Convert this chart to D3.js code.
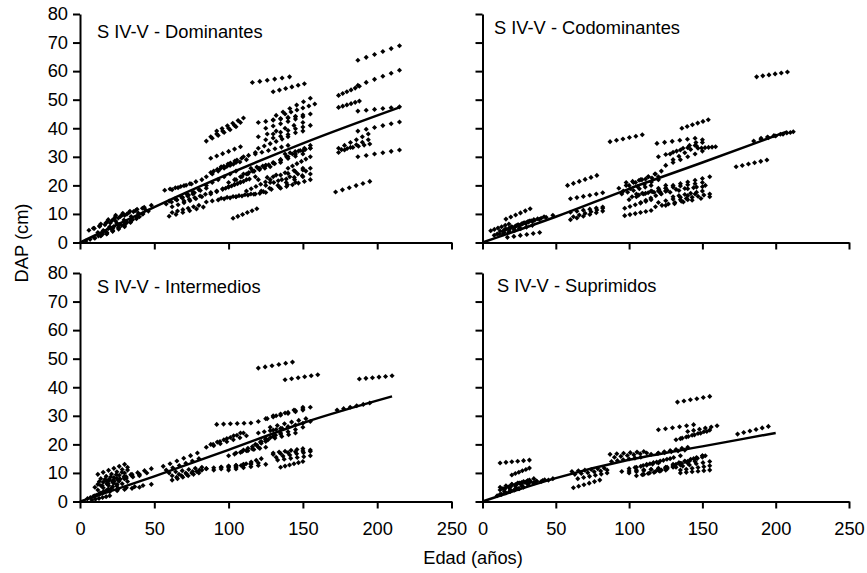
<!DOCTYPE html>
<html>
<head>
<meta charset="utf-8">
<script src="https://cdn.jsdelivr.net/npm/d3@7"></script>
<style>
  html, body { margin: 0; padding: 0; background: #fff; }
  svg { display: block; }
  text { font-family: "Liberation Sans", Arial, sans-serif; fill: #000; }
</style>
</head>
<body>
<svg id="chart" width="867" height="573"></svg>
<script>
// ---- Data ----
// Each tree: [firstAge, lastAge, firstDAP, lastDAP]; each tree was measured 6 times.
const measurementsPerTree = 6;
const xTicks = [0, 50, 100, 150, 200, 250];
const yTicks = [0, 10, 20, 30, 40, 50, 60, 70, 80];
const panelTitles = ["S IV-V - Dominantes", "S IV-V - Codominantes", "S IV-V - Intermedios", "S IV-V - Suprimidos"];
const xTitle = "Edad (años)";
const yTitle = "DAP (cm)";

const dominantes = [
  [4,18,0.5,3.5],[6,24,4.3,7.5],[9,30,5,9.5],[14,36,6.5,10.8],[19,42,8,12],[24,48,9.5,13],
  [10,30,1.5,5.5],[14,34,2.5,7],[18,38,3,8.3],[22,42,5,10],[28,46,6,11],[16,40,4,9],[20,44,5.5,11.5],[12,30,3.5,7],
  [57,75,18.3,20.5],[62,82,18.5,22],[58,76,13.5,17],[60,80,14.5,18.5],[62,82,12.5,16],[65,85,15,19],
  [60,83,9.2,12.4],[62,80,10.5,13],[70,88,14.5,17.5],
  [85,105,35.5,40.5],[88,108,37,42],[92,110,39,43.6],[88,108,29.5,33.5],[85,105,23,28],[88,110,24.5,30],
  [90,112,25,29],[95,118,26.5,31.5],[85,105,20,25],[88,108,17,21],[92,112,18,22],[98,118,19,23],
  [85,105,14.2,16],[95,115,15.5,17],[105,125,16,17.5],[103,119,8.5,11.8],[100,120,21,26],[105,125,22,27],
  [110,128,24,26.5],[112,128,18,22],
  [116,141,56,58],[130,151,52.8,55.6],[120,145,42,44],[130,155,43,45],[125,150,40,44],[120,150,37,42],
  [132,155,44.5,50.5],[138,158,45,48.5],[125,150,36,39],[130,155,38,41],[120,140,33,37],[118,140,31,34],
  [125,150,27,31],[130,155,28,33],[135,155,29,34],[120,150,22,26],[125,152,20,25],[128,155,21,24],
  [130,155,23,26],[118,145,17,21],[122,150,18,23],[135,155,19,22],[140,155,26,30],[115,135,26,28],[138,155,31,33],
  [187,215,63.8,68.9],[187,215,55,60.3],[174,188,51.5,54.7],[174,188,47.3,49.5],[187,215,46,47.5],
  [187,215,39,42.2],[174,194,31.5,36],[174,194,33,38],[176,195,32.5,34.5],[187,215,30,32.4],[172,195,17.7,21.4]
];
const codominantes = [
  [5.6,18,4.1,6.5],[16,32.5,8.2,11.8],[17,39,1.8,3.5],[10,30,3,7],[12,32,4,7.5],[15,35,4.5,8],
  [18,40,5,8.5],[20,42,5.5,9],[25,48,6,9.5],[8,25,2.5,5],[14,34,3,6],
  [58,78,20,23.5],[60,82,15.3,17.4],[60,82,10.6,12.4],[60,82,8,11],[62,82,9,12],
  [87,109,35.3,37.7],[93,118,19,24],[96,120,18,22],[100,122,20,25],[98,120,21,23],[100,125,15,20],
  [102,125,16,19],[105,125,17,18],[95,115,17,20],[97,115,12,15],[108,125,14,18],[97,115,9.4,11.2],
  [136,154,40,43],[119,145,34.7,36.5],[120,145,30,34],[128,150,31,36],[125,150,27,32],[130,150,29,35],[147,159,33,33.5],
  [120,150,18,19.5],[122,152,17,20],[125,150,19,21],[130,155,20,23],[120,145,14,17],[125,155,13,16],
  [130,150,16,18],[118,140,12.5,15],[135,155,15,17],
  [187,208,58,59.7],[185,210,35.5,38.5],[190,212,36.5,38.8],[173,194,26.5,28.9]
];
const intermedios = [
  [12,30,9.5,13],[14,32,8,12],[13,32,7,11],[12,30,6,10],[15,35,5.5,9.5],[18,40,7,9],[20,45,7.5,10],
  [25,48,8,11.5],[12,30,4,8],[14,32,3,7],[20,48,4,6],[15,40,3,5],[5,15,1,3],[8,20,0.5,2],[10,30,5,8],[10,25,2,6],
  [56,79,12.3,17],[58,80,11,15],[60,82,10,12],[62,85,9,11.5],[62,80,7.5,10],[65,82,8.5,11],
  [92,115,27,27.5],[85,108,19,24],[88,110,20,24],[90,112,19.5,23],[85,110,11.5,13],[90,115,11,13],
  [95,120,12,13.5],[100,125,11,13],[105,122,12,15],[100,120,16,19],[105,125,17,19],[110,125,18,21],[118,135,20,24],
  [120,143,46.7,48.8],[138,160,42.6,44.4],[120,150,28,33],[125,150,29,32],[130,155,30,33],[128,152,26,29],
  [130,155,25,28],[120,140,24,26],[122,145,21,24],[125,150,22,26],
  [130,155,16.5,18],[132,155,15.5,17.5],[133,155,14.5,16],[135,150,12,14],[130,150,17,18.5],
  [188,210,42.9,44],[173,195,32,34.5]
];
const suprimidos = [
  [12,32,13.5,14.5],[20,32,9.3,11.7],[12,32,5,7.5],[12,30,4,7],[14,35,4.5,8],[15,35,3.5,6.5],[18,40,5,7],
  [20,48,6,8],[12,28,2.5,5],[10,25,2,4.5],[25,45,6.5,7.5],
  [61,83,10.5,11.7],[63,85,9.5,11],[65,85,8,10],[62,80,4.8,7.5],
  [87,110,16.5,17.5],[90,112,15.5,17],[88,108,14,15.5],[95,120,10.5,11.5],[100,120,11.5,13.5],
  [100,125,10,12],[105,125,9,11],[110,130,9.5,12],[105,128,12,15],[112,135,13,16],
  [115,138,16.5,18],[120,140,17,19],[120,150,11,16],[125,152,11.5,16],
  [130,150,13,16],[132,155,12,14],[135,155,11,12.5],[135,155,10,11],[125,150,12,15.5],[120,145,11,14],
  [133,155,34.8,36.8],[120,144,25.1,26.9],[140,160,24.5,26.5],[132,153,21.6,24.5],[135,155,22,25],
  [174,195,23.6,26.3]
];

// fitted curves, read as [age, DAP] points
const fitDominantes = [[0,0],[25,6.3],[50,12.4],[100,24],[150,34.7],[215,47.3]];
const fitCodominantes = [[0,0],[50,9],[100,18.8],[150,28],[208,38.9]];
const fitIntermedios = [[0,0],[50,8.8],[100,18.1],[150,27.5],[210,36.8]];
const fitSuprimidos = [[0,0],[50,8.2],[100,14.6],[150,19.3],[200,24]];

// ---- Layout ----
const layout = [
  {data: dominantes, fit: fitDominantes, left: 80, width: 371.5, top: 14, yLabels: true, xLabels: false, tx: 97, ty: 38},
  {data: codominantes, fit: fitCodominantes, left: 482.5, width: 366.5, top: 14, yLabels: false, xLabels: false, tx: 494, ty: 34},
  {data: intermedios, fit: fitIntermedios, left: 80, width: 371.5, top: 273, yLabels: true, xLabels: true, tx: 97, ty: 293},
  {data: suprimidos, fit: fitSuprimidos, left: 482.5, width: 366.5, top: 273, yLabels: false, xLabels: true, tx: 497, ty: 292}
];
const PH = 228.5;

const svg = d3.select("#chart");
const FONT = 18.3;

function treePoints(t) {
  const [a0, a1, d0, d1] = t;
  const pts = [];
  for (let i = 0; i < measurementsPerTree; i++) {
    const f = i / (measurementsPerTree - 1);
    pts.push([a0 + (a1 - a0) * f, d0 + (d1 - d0) * f]);
  }
  return pts;
}

const diamond = d3.symbol().type(d3.symbolSquare).size(13);

layout.forEach((p, i) => {
  const x = d3.scaleLinear().domain([0, 250]).range([p.left, p.left + p.width]);
  const y = d3.scaleLinear().domain([0, 80]).range([p.top + PH, p.top]);
  const g = svg.append("g");

  // points
  const pts = p.data.flatMap(treePoints);
  g.append("g").selectAll("path").data(pts).join("path")
    .attr("d", diamond)
    .attr("transform", d => `translate(${x(d[0])},${y(d[1])}) rotate(45)`)
    .attr("fill", "#000");

  // fit line
  g.append("path")
    .datum(p.fit)
    .attr("d", d3.line().x(d => x(d[0])).y(d => y(d[1])).curve(d3.curveMonotoneX))
    .attr("fill", "none").attr("stroke", "#000").attr("stroke-width", 2.5);

  // axes
  const ya = d3.axisLeft(y).tickValues(yTicks).tickSize(7).tickSizeOuter(0).tickPadding(5)
    .tickFormat(p.yLabels ? d3.format("d") : () => "");
  const xa = d3.axisBottom(x).tickValues(xTicks).tickSize(7).tickSizeOuter(0).tickPadding(14)
    .tickFormat(p.xLabels ? d3.format("d") : () => "");
  const gy = g.append("g").attr("transform", `translate(${p.left},0)`).call(ya);
  const gx = g.append("g").attr("transform", `translate(0,${p.top + PH})`).call(xa);
  [gx, gy].forEach(a => {
    a.select(".domain").attr("stroke", "#000").attr("stroke-width", 2);
    a.selectAll(".tick line").attr("stroke", "#000").attr("stroke-width", 2);
    a.selectAll(".tick text").attr("fill", "#000").style("font-size", FONT + "px")
      .style("font-family", '"Liberation Sans", Arial, sans-serif');
  });

  // title
  g.append("text").attr("x", p.tx).attr("y", p.ty).style("font-size", FONT + "px")
    .text(panelTitles[i]);
});

svg.append("text").attr("transform", "translate(28,243) rotate(-90)")
  .attr("text-anchor", "middle").style("font-size", FONT + "px").text(yTitle);
svg.append("text").attr("x", 473).attr("y", 564)
  .attr("text-anchor", "middle").style("font-size", FONT + "px").text(xTitle);
</script>
</body>
</html>
